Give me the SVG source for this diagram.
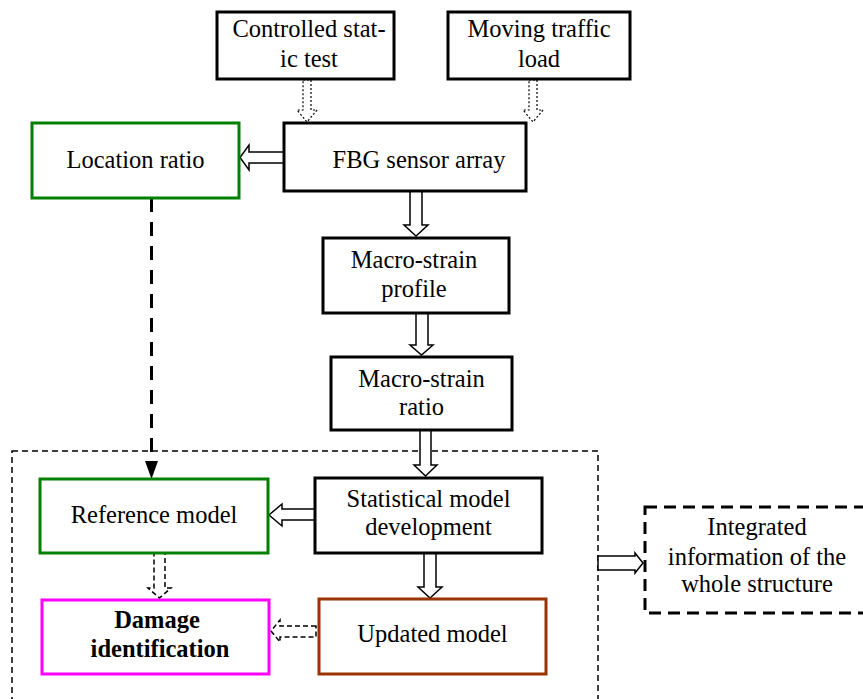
<svg xmlns="http://www.w3.org/2000/svg" width="863" height="699" viewBox="0 0 863 699">
<style>
  .box { fill: #fff; stroke: #000; stroke-width: 3; }
  .green { fill: #fff; stroke: #008000; stroke-width: 3; }
  .mag { fill: #fff; stroke: #ff00ff; stroke-width: 3; }
  .brown { fill: #fff; stroke: #993300; stroke-width: 3; }
  .t { font-family: "Liberation Serif", "Times New Roman", serif; font-size: 24.5px; fill: #000; text-anchor: middle; }
  .b { font-weight: bold; }
  .blk { fill: #fff; stroke: #000; stroke-width: 1.5; stroke-linejoin: miter; }
  .dot { fill: #fff; stroke: #000; stroke-width: 1.2; stroke-dasharray: 2 2; }
  .dsh { fill: #fff; stroke: #000; stroke-width: 1.5; stroke-dasharray: 5 3; }
</style>
<rect width="863" height="699" fill="#fff"/>

<g id="region">
  <rect x="12" y="451" width="586" height="260" fill="none" stroke="#000" stroke-width="1.5" stroke-dasharray="6 4"/>
</g>

<g id="connectors">
  <polygon class="dot" points="303,80 311,80 311,110 317,110 307,122 297,110 303,110"/>
  <polygon class="dot" points="529,80 537,80 537,110 543,110 533,122 523,110 529,110"/>
  <polygon class="blk" points="284,152 249,152 249,145 240,157.5 249,170 249,163 284,163"/>
  <polygon class="blk" points="410,191 422,191 422,225 428,225 416,236 404,225 410,225"/>
  <polygon class="blk" points="416,313 428,313 428,345 433,345 421.5,355 410,345 416,345"/>
  <polygon class="blk" points="420,430 431,430 431,465 437,465 425.5,476 414,465 420,465"/>
  <polygon class="blk" points="315,509 282,509 282,504 269,515 282,526 282,520 315,520"/>
  <polygon class="blk" points="424,553 436,553 436,587 442,587 430,598 418,587 424,587"/>
  <polygon class="blk" points="598,556 635,556 635,553 643,563 635,573 635,570 598,570"/>
  <polygon class="dsh" points="154,553 165,553 165,588 171,588 159.5,598 148,588 154,588"/>
  <polygon class="dsh" points="316,626 280,626 280,620 271,631 280,642 280,637 316,637"/>
  <line x1="151.5" y1="198" x2="151.5" y2="462" stroke="#000" stroke-width="3" stroke-dasharray="14 10"/>
  <polygon points="145,461 158,461 151.5,479" fill="#000"/>
</g>

<g id="controlled">
  <rect class="box" x="217" y="12" width="177" height="67"/>
  <text class="t" x="309" y="37">Controlled stat-</text>
  <text class="t" x="309" y="67">ic test</text>
</g>
<g id="moving">
  <rect class="box" x="448" y="12" width="182" height="67"/>
  <text class="t" x="539" y="37">Moving traffic</text>
  <text class="t" x="539" y="67">load</text>
</g>
<g id="fbg">
  <rect class="box" x="284" y="123" width="242" height="68"/>
  <text class="t" x="419" y="168">FBG sensor array</text>
</g>
<g id="location">
  <rect class="green" x="32" y="123" width="207" height="75"/>
  <text class="t" x="135.5" y="168">Location ratio</text>
</g>
<g id="profile">
  <rect class="box" x="323" y="238" width="186" height="75"/>
  <text class="t" x="414" y="268">Macro-strain</text>
  <text class="t" x="414" y="297">profile</text>
</g>
<g id="ratio">
  <rect class="box" x="331" y="357" width="181" height="73"/>
  <text class="t" x="421.5" y="387">Macro-strain</text>
  <text class="t" x="421.5" y="415">ratio</text>
</g>
<g id="statistical">
  <rect class="box" x="315" y="478" width="227" height="75"/>
  <text class="t" x="428.5" y="507">Statistical model</text>
  <text class="t" x="428.5" y="535">development</text>
</g>
<g id="reference">
  <rect class="green" x="40" y="479" width="228" height="74"/>
  <text class="t" x="154" y="523">Reference model</text>
</g>
<g id="updated">
  <rect class="brown" x="319" y="599" width="227" height="75"/>
  <text class="t" x="432.5" y="642">Updated model</text>
</g>
<g id="damage">
  <rect class="mag" x="42" y="600" width="227" height="74"/>
  <text class="t b" x="157" y="628">Damage</text>
  <text class="t b" x="160" y="657">identification</text>
</g>
<g id="integrated">
  <rect x="645" y="507" width="240" height="106" fill="#fff" stroke="#000" stroke-width="3" stroke-dasharray="12 7"/>
  <text class="t" x="757" y="535">Integrated</text>
  <text class="t" x="757" y="565">information of the</text>
  <text class="t" x="757" y="592">whole structure</text>
</g>
</svg>
